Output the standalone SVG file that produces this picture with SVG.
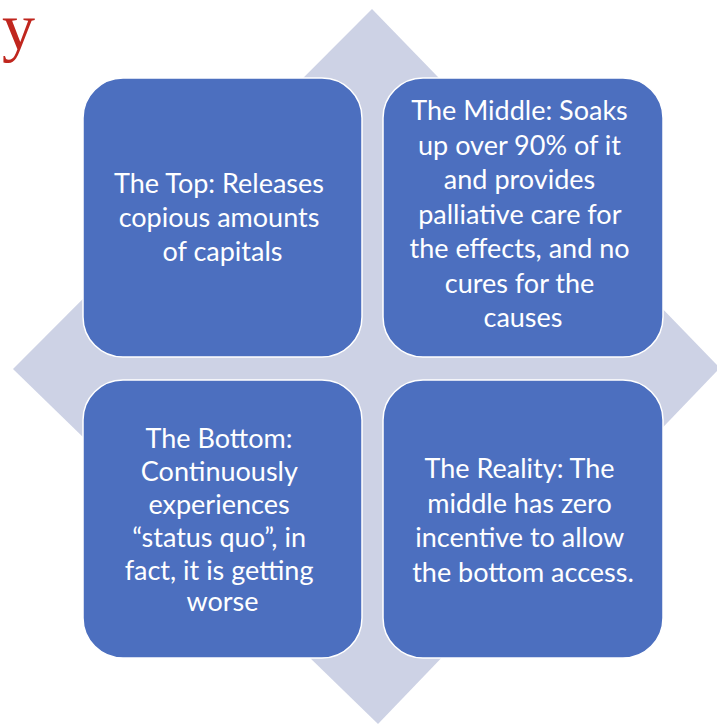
<svg xmlns="http://www.w3.org/2000/svg" width="717" height="726" viewBox="0 0 717 726">
  <style>
    .box { fill: #4C6FBF; stroke: #FFFFFF; stroke-width: 1.5; }
    .label { font-family: Lato, "Open Sans", "Liberation Sans", sans-serif; font-size: 27px; fill: #FFFFFF; text-anchor: middle; }
    .title { font-family: "Liberation Serif", "DejaVu Serif", serif; font-size: 66px; fill: #C0261E; }
  </style>

  <rect x="0" y="0" width="717" height="726" fill="#FFFFFF"/>

  <!-- trailing letter of the slide heading -->
  <text class="title" x="2" y="49">y</text>

  <!-- background diamond -->
  <polygon id="backdrop" points="372,9 720,368 378,724 13,369" fill="#CDD2E5"/>

  <!-- connectors: none in this layout -->
  <g id="connectors"></g>

  <g id="top">
    <rect class="box" x="83" y="78" width="279" height="279" rx="40" ry="40"/>
    <text class="label">
      <tspan x="222.5" y="193">The Top: Releases</tspan>
      <tspan x="222.5" y="227">copious amounts</tspan>
      <tspan x="222.5" y="261">of capitals</tspan>
    </text>
  </g>

  <g id="middle">
    <rect class="box" x="383" y="78" width="280" height="279" rx="40" ry="40"/>
    <text class="label">
      <tspan x="523" y="120">The Middle: Soaks</tspan>
      <tspan x="523" y="154.5">up over 90% of it</tspan>
      <tspan x="523" y="189">and provides</tspan>
      <tspan x="523" y="223.5">palliative care for</tspan>
      <tspan x="523" y="258">the effects, and no</tspan>
      <tspan x="523" y="292.5">cures for the</tspan>
      <tspan x="523" y="327">causes</tspan>
    </text>
  </g>

  <g id="bottom">
    <rect class="box" x="83" y="380" width="279" height="278" rx="40" ry="40"/>
    <text class="label">
      <tspan x="222.5" y="448">The Bottom:</tspan>
      <tspan x="222.5" y="481">Continuously</tspan>
      <tspan x="222.5" y="514">experiences</tspan>
      <tspan x="222.5" y="547">“status quo”, in</tspan>
      <tspan x="222.5" y="580">fact, it is getting</tspan>
      <tspan x="222.5" y="611">worse</tspan>
    </text>
  </g>

  <g id="reality">
    <rect class="box" x="383" y="380" width="280" height="278" rx="40" ry="40"/>
    <text class="label">
      <tspan x="523" y="478">The Reality: The</tspan>
      <tspan x="523" y="513">middle has zero</tspan>
      <tspan x="523" y="547">incentive to allow</tspan>
      <tspan x="523" y="582">the bottom access.</tspan>
    </text>
  </g>
</svg>
